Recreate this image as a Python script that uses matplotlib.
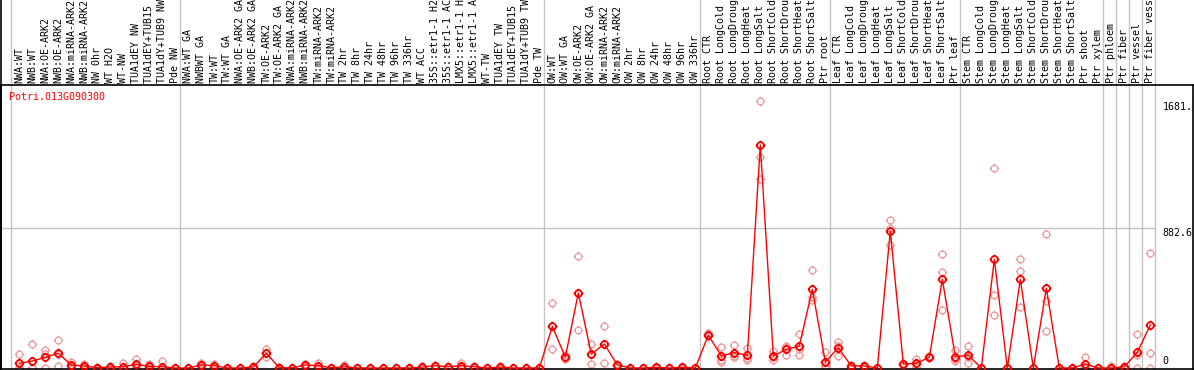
import matplotlib
matplotlib.use("Agg")
import matplotlib.pyplot as plt
import matplotlib.transforms as mtransforms
from matplotlib.path import Path

# --- sample labels, left to right ---
labels = [
    "NWA:WT", "NWB:WT", "NWA:OE-ARK2", "NWB:OE-ARK2", "NWA:miRNA-ARK2", "NWB:miRNA-ARK2",
    "NW 0hr", "WT H2O", "WT-NW", "TUA1dEY NW", "TUA1dEY+TUB15 NW", "TUA1dY+TUB9 NW", "Pde NW",
    "NWA:WT GA", "NWBWT GA", "TW:WT", "TW:WT GA", "NWA:OE-ARK2 GA", "NWB:OE-ARK2 GA",
    "TW:OE-ARK2", "TW:OE-ARK2 GA", "NWA:miRNA-ARK2 GA", "NWB:miRNA-ARK2 GA", "TW:miRNA-ARK2",
    "TW:miRNA-ARK2", "TW 2hr", "TW 8hr", "TW 24hr", "TW 48hr", "TW 96hr", "TW 336hr", "WT ACC",
    "35S::etr1-1 H2O", "35S::etr1-1 ACC", "LMX5::etr1-1 H2O", "LMX5::etr1-1 ACC", "WT-TW",
    "TUA1dEY TW", "TUA1dEY+TUB15 TW", "TUA1dY+TUB9 TW", "Pde TW",
    "OW:WT", "OW:WT GA", "OW:OE-ARK2", "OW:OE-ARK2 GA", "OW:miRNA-ARK2", "OW:miRNA-ARK2",
    "OW 2hr", "OW 8hr", "OW 24hr", "OW 48hr", "OW 96hr", "OW 336hr",
    "Root CTR", "Root LongCold", "Root LongDrought", "Root LongHeat", "Root LongSalt",
    "Root ShortCold", "Root ShortDrought", "Root ShortHeat", "Root ShortSalt", "Ptr root",
    "Leaf CTR", "Leaf LongCold", "Leaf LongDrought", "Leaf LongHeat", "Leaf LongSalt",
    "Leaf ShortCold", "Leaf ShortDrought", "Leaf ShortHeat", "Leaf ShortSalt", "Ptr leaf",
    "Stem CTR", "Stem LongCold", "Stem LongDrought", "Stem LongHeat", "Stem LongSalt",
    "Stem ShortCold", "Stem ShortDrought", "Stem ShortHeat", "Stem ShortSalt",
    "Ptr shoot", "Ptr xylem", "Ptr phloem", "Ptr fiber", "Ptr vessel", "Ptr fiber vessel",
]

# group separators (column boundaries)
group_edges = [0, 13, 41, 53, 63, 73, 84, 85, 86, 87, 88]

# mean expression per sample
means = [
    30, 44, 68, 93, 19, 13, 2, 6, 8, 23, 10, 8, 0,
    0, 19, 15, 0, 0, 6, 93, 2, 1, 19, 15, 1, 8, 0, 0, 0, 0, 0, 6, 15, 8, 15, 8, 0, 6, 0, 0, 0,
    263, 68, 474, 88, 152, 19, 0, 0, 4, 0, 4, 0,
    208, 76, 97, 80, 1409, 76, 118, 139, 497, 38,
    128, 13, 13, 0, 866, 25, 29, 68, 560, 72,
    80, 0, 687, 0, 560, 0, 504, 0, 0, 25, 0,
    0, 8, 99, 272,
]

# replicates
rep1 = [
    87, 150, 114, 177, 40, 25, 5, 10, 30, 59, 25, 42, 0,
    0, 31, 25, 0, 0, 10, 118, 4, 2, 25, 31, 2, 21, 0, 0, 0, 0, 0, 10, 20, 12, 31, 12, 0, 10, 0, 0, 0,
    411, 80, 708, 152, 265, 25, 0, 0, 8, 0, 8, 0,
    223, 135, 145, 128, 1690, 109, 135, 215, 619, 103,
    166, 20, 20, 0, 935, 30, 55, 75, 720, 114,
    139, 0, 1262, 0, 687, 0, 845, 0, 0, 68, 0,
    13, 15, 213, 727,
]
rep2 = [
    3, 0, 90, 90, 13, 13, 0, 6, 0, 10, 5, 0, 0,
    0, 19, 15, 0, 0, 6, 93, 2, 1, 19, 10, 1, 4, 0, 0, 0, 0, 0, 6, 15, 8, 10, 8, 0, 6, 0, 0, 0,
    263, 68, 474, 88, 152, 19, 0, 0, 4, 0, 4, 0,
    208, 52, 76, 61, 1331, 68, 137, 120, 451, 10,
    142, 13, 13, 0, 886, 25, 25, 68, 605, 58,
    72, 0, 459, 0, 613, 0, 425, 0, 0, 7, 0,
    0, 8, 85, 93,
]
rep3 = [
    0, 0, 0, 13, 4, 0, 0, 2, 0, 0, 0, 0, 0,
    0, 6, 5, 0, 0, 2, 68, 0, 0, 13, 4, 0, 0, 0, 0, 0, 0, 0, 2, 10, 4, 4, 4, 0, 2, 0, 0, 0,
    118, 55, 240, 23, 31, 13, 0, 0, 0, 0, 0, 0,
    200, 40, 70, 51, 1194, 51, 82, 82, 430, 0,
    76, 6, 6, 0, 777, 20, 7, 61, 366, 44,
    29, 0, 333, 0, 387, 0, 234, 0, 0, 0, 0,
    0, 1, 0, 0,
]

gene = "Potri.013G090300"
ytick_vals = [0, 882.6, 1681.2]
ytick_text = ["0", "882.6", "1681.2"]

W, H = 1194, 370
fig = plt.figure(figsize=(W / 100, H / 100), dpi=100)
ax = fig.add_axes([1 / W, 1 / H, 1192 / W, 284 / H])

col_px, left_px = 13, 11
ax.set_xlim((1 - left_px) / col_px, (1193 - left_px) / col_px)
ax.set_ylim(-6.3, 1788)
ax.set_xticks([])
ax.set_yticks([])
for s in ax.spines.values():
    s.set_color("black")
    s.set_linewidth(1.2)

off = 0.64
xs = [i + off for i in range(len(labels))]

grey = "#c4c4c4"
top_ext = (284 + 85) / 284
for e in group_edges:
    ax.axvline(e, ymin=0, ymax=top_ext, color=grey, lw=1, clip_on=False, zorder=0)
ax.axvline(ax.get_xlim()[0], ymin=0, ymax=top_ext, color="black", lw=1.2, clip_on=False)
ax.hlines(ytick_vals[1], ax.get_xlim()[0], group_edges[-1], color=grey, lw=1, zorder=0)

# marker: open circle with four little ticks
circ = Path.unit_circle()
ticks = Path([[0, 1], [0, 1.4], [0, -1], [0, -1.4], [1, 0], [1.4, 0], [-1, 0], [-1.4, 0]],
             [Path.MOVETO, Path.LINETO] * 4)
mk = Path.make_compound_path(circ, ticks)

for r in (rep1, rep2, rep3):
    ax.plot(xs, r, ls="none", marker=mk, ms=6.8, mfc="none", mec="#ee9a9a", mew=0.9,
            clip_on=False, zorder=2)
ax.plot(xs, means, color="red", lw=1, zorder=3, clip_on=False)
ax.plot(xs, means, ls="none", marker=mk, ms=6.8, mfc="none", mec="red", mew=1.3,
        clip_on=False, zorder=4)

mono = "DejaVu Sans Mono"
lab_tr = mtransforms.blended_transform_factory(ax.transData, ax.transAxes)
lab_tr = lab_tr + mtransforms.ScaledTranslation(0, 2 / 100, fig.dpi_scale_trans)
for x, t in zip(xs, labels):
    ax.text(x, 1, t, rotation=90, ha="center", va="bottom", fontsize=7.2,
            family=mono, transform=lab_tr, clip_on=False)

ax.annotate(gene, xy=(0, 1), xycoords="axes fraction", xytext=(8, -7),
            textcoords="offset pixels", ha="left", va="top", color="red",
            fontsize=7.2, family=mono)

tx = group_edges[-1] + 0.6
for v, t in zip(ytick_vals, ytick_text):
    va = "bottom" if v == 0 else "top"
    dy = 2 if v == 0 else 0
    ax.annotate(t, xy=(tx, v), xytext=(0, dy), textcoords="offset pixels",
                ha="left", va=va, fontsize=7.2, family=mono, annotation_clip=False,
                clip_on=True)

fig.savefig("out.png", dpi=100)
